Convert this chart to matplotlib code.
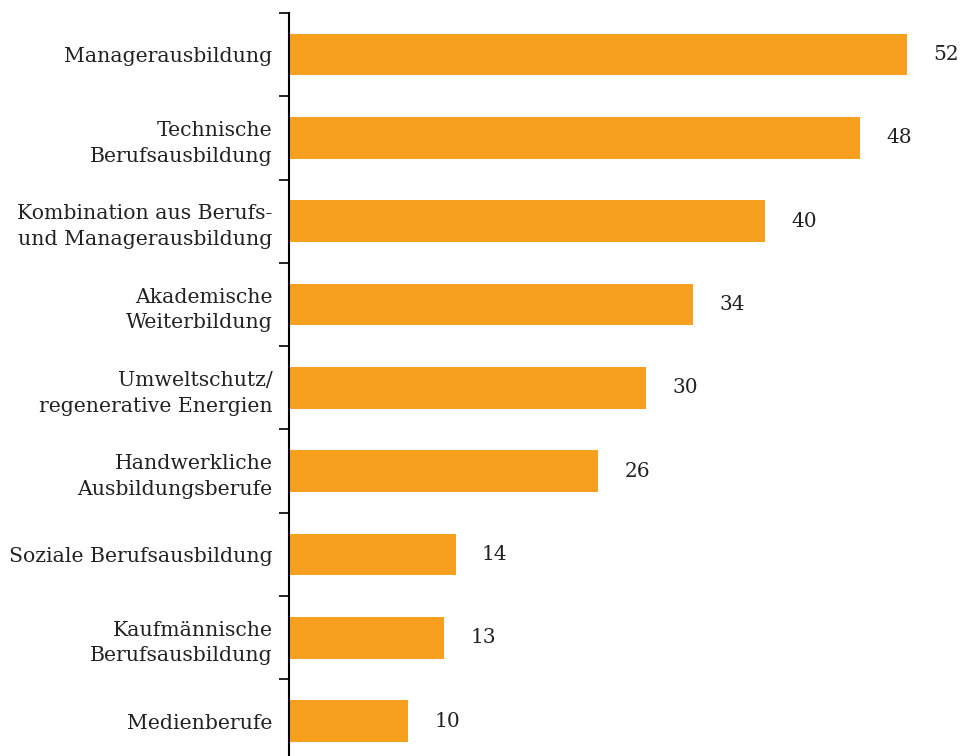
import matplotlib.pyplot as plt
from matplotlib.ticker import FixedLocator

categories = [
    "Managerausbildung",
    "Technische\nBerufsausbildung",
    "Kombination aus Berufs-\nund Managerausbildung",
    "Akademische\nWeiterbildung",
    "Umweltschutz/\nregenerative Energien",
    "Handwerkliche\nAusbildungsberufe",
    "Soziale Berufsausbildung",
    "Kaufmännische\nBerufsausbildung",
    "Medienberufe",
]
values = [52, 48, 40, 34, 30, 26, 14, 13, 10]

plt.rcParams['font.family'] = ['DejaVu Serif']

fig = plt.figure(figsize=(9.68, 7.56), dpi=100)
ax = fig.add_axes([0.2986, 0.0, 0.7014, 0.9828])

pos = list(range(len(categories)))
ax.barh(pos, values, height=0.5, color='#F7A01F')

for y, v in zip(pos, values):
    ax.annotate(str(v), (v, y), xytext=(19, 0), textcoords='offset points',
                ha='left', va='center', fontsize=14.5, color='#222222')

ax.set_xlim(0, 57.1)
ax.set_ylim(8.42, -0.5)

ax.set_yticks(pos)
ax.set_yticklabels(categories, fontsize=14.7, color='#222222', ha='right',
                   multialignment='right', linespacing=1.45)
ax.tick_params(axis='y', which='major', length=0, pad=12)
ax.yaxis.set_minor_locator(FixedLocator([p - 0.5 for p in pos]))
ax.tick_params(axis='y', which='minor', length=7, width=1.2, direction='out')

ax.set_xticks([])
for s in ['top', 'right', 'bottom']:
    ax.spines[s].set_visible(False)
ax.spines['left'].set_linewidth(1.5)

fig.savefig('out.png', dpi=100)
